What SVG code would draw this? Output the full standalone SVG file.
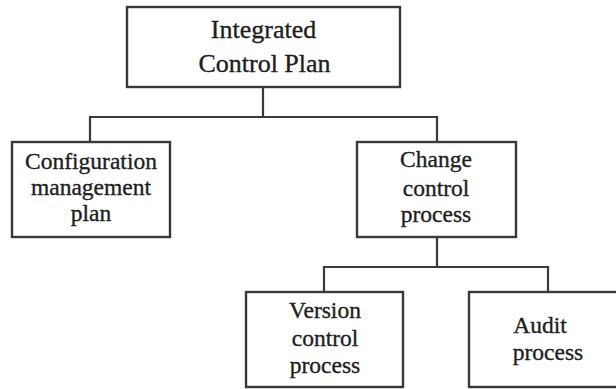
<svg xmlns="http://www.w3.org/2000/svg" width="616" height="389" viewBox="0 0 616 389">
  <style>
    .box { fill: #ffffff; stroke: #3a3a3a; stroke-width: 2.4; }
    .link { fill: none; stroke: #3a3a3a; stroke-width: 2.2; }
    .label { font-family: "Liberation Serif", "Times New Roman", serif; fill: #1e1e1e; stroke: #1e1e1e; stroke-width: 0.35; text-anchor: middle; }
    .big { font-size: 26px; }
    .small { font-size: 23.5px; }
  </style>
  <rect width="616" height="389" fill="#ffffff"/>

  <!-- tree connectors -->
  <g id="connectors">
    <polyline class="link" points="263,87 263,117"/>
    <polyline class="link" points="90,142 90,117 437,117 437,142"/>
    <polyline class="link" points="437,237 437,267"/>
    <polyline class="link" points="324,292 324,267 548,267 548,292"/>
  </g>

  <g id="integrated-control-plan">
    <rect class="box" x="127" y="7" width="273" height="80"/>
    <text class="label big" x="263.5" y="38">Integrated</text>
    <text class="label big" x="264.5" y="72">Control Plan</text>
  </g>

  <g id="configuration-management-plan">
    <rect class="box" x="12" y="142" width="158" height="95"/>
    <text class="label small" x="91" y="169">Configuration</text>
    <text class="label small" x="91" y="195">management</text>
    <text class="label small" x="91" y="221">plan</text>
  </g>

  <g id="change-control-process">
    <rect class="box" x="357" y="142" width="159" height="95"/>
    <text class="label small" x="436" y="167">Change</text>
    <text class="label small" x="436" y="196">control</text>
    <text class="label small" x="436" y="222">process</text>
  </g>

  <g id="version-control-process">
    <rect class="box" x="246" y="292" width="157" height="95"/>
    <text class="label small" x="325" y="318">Version</text>
    <text class="label small" x="325" y="346">control</text>
    <text class="label small" x="325" y="373">process</text>
  </g>

  <g id="audit-process">
    <rect class="box" x="469" y="292" width="160" height="95"/>
    <text class="label small" x="540" y="333">Audit</text>
    <text class="label small" x="548" y="360">process</text>
  </g>
</svg>
